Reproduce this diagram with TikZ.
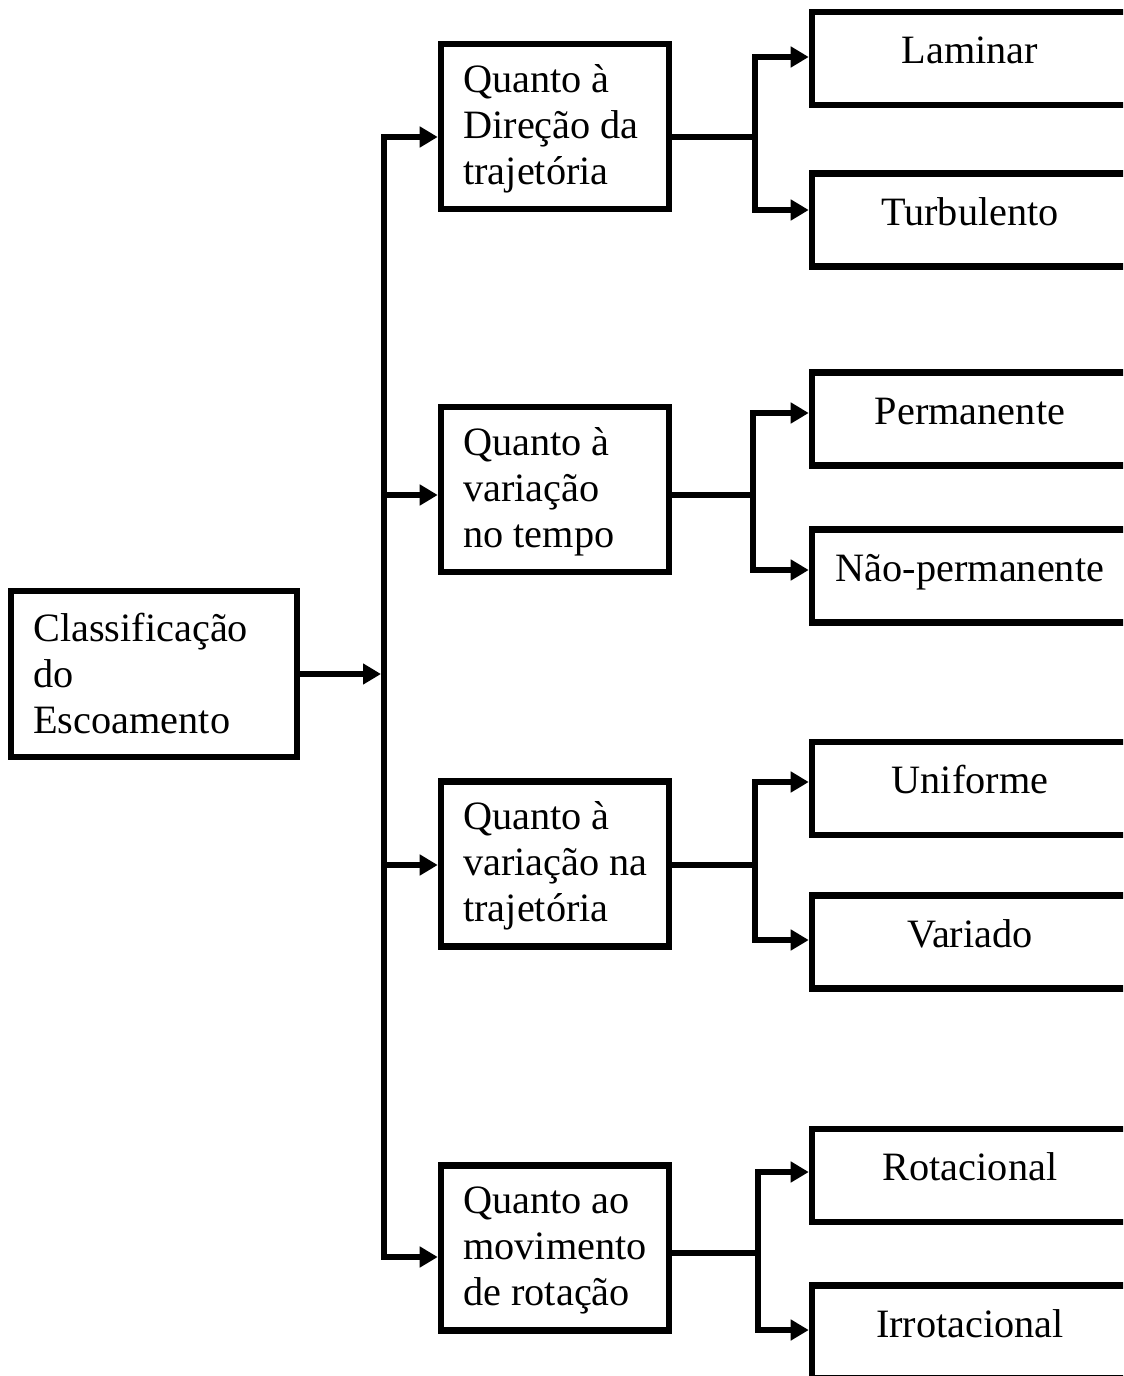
\documentclass[tikz,border=0pt]{standalone}
\usepackage{fontspec}
\setmainfont{Liberation Serif}
\usetikzlibrary{arrows.meta}
\begin{document}
\begin{tikzpicture}[x=0.75pt,y=-0.75pt,
  font=\fontsize{30.2pt}{34.5pt}\selectfont,
  lw/.style={line width=4.9pt},
  box/.style={draw, lw, rectangle, inner sep=0pt},
  leftbox/.style={box, minimum width=214.5pt, minimum height=124.5pt},
  midbox/.style={box, minimum width=171pt, minimum height=123.75pt},
  leafbox/.style={box, minimum width=237pt, minimum height=69.75pt},
  ltxt/.style={anchor=west, align=left, inner sep=0pt, xshift=19pt, yshift=-1.5pt},
  rtxt/.style={inner sep=0pt, yshift=-1.5pt, text height=0.7em, text depth=0.2em},
  arr/.style={lw, -{Triangle[length=13.5pt, width=15pt]}},
  arr2/.style={lw, {Triangle[length=13.5pt, width=15pt]}-{Triangle[length=13.5pt, width=15pt]}}
]
\useasboundingbox (0,0) rectangle (1123,1376);
\clip (0,0) rectangle (1123,1376);

% root
\node[leftbox, label={[ltxt, yshift=1.5pt]west:Classificação\\do\\Escoamento}] (L) at (154,674) {};

% middle boxes
\node[midbox, label={[ltxt]west:Quanto à\\Direção da\\trajetória}] (b1) at (555,126.5) {};
\node[midbox, label={[ltxt]west:Quanto à\\variação\\no tempo}] (b2) at (555,489.5) {};
\node[midbox, label={[ltxt]west:Quanto à\\variação na\\trajetória}] (b3) at (555,864) {};
\node[midbox, label={[ltxt]west:Quanto ao\\movimento\\de rotação}] (b4) at (555,1248) {};

% leaves
\node[leafbox, label={[rtxt]center:Laminar}] (r1) at (970,58.5) {};
\node[leafbox, label={[rtxt]center:Turbulento}] (r2) at (970,220) {};
\node[leafbox, label={[rtxt]center:Permanente}] (r3) at (970,419) {};
\node[leafbox, label={[rtxt]center:Não-permanente}] (r4) at (970,576) {};
\node[leafbox, label={[rtxt]center:Uniforme}] (r5) at (970,788.5) {};
\node[leafbox, label={[rtxt]center:Variado}] (r6) at (970,942) {};
\node[leafbox, label={[rtxt]center:Rotacional}] (r7) at (970,1175.5) {};
\node[leafbox, label={[rtxt]center:Irrotacional}] (r8) at (970,1332) {};

% bus
\coordinate (busT) at (384,137);
\coordinate (busB) at (384,1257);
\coordinate (busM) at (381,674);
\coordinate (j2) at (384,495);
\coordinate (j3) at (384,865);

\draw[arr] (L) -- (busM);
\draw[arr2] (b1.west |- busT) -- (busT) -- (busB) -- (b4.west |- busB);
\draw[arr] (j2) -- (b2.west |- j2);
\draw[arr] (j3) -- (b3.west |- j3);

% branches
\coordinate (o1) at (755,137);  \coordinate (t1) at (755,57);   \coordinate (u1) at (755,210);
\coordinate (o2) at (753,495);  \coordinate (t2) at (753,413);  \coordinate (u2) at (753,570);
\coordinate (o3) at (755,865);  \coordinate (t3) at (755,782);  \coordinate (u3) at (755,940);
\coordinate (o4) at (758,1253); \coordinate (t4) at (758,1172); \coordinate (u4) at (758,1330);

\draw[lw] (b1.east |- o1) -- (o1);
\draw[arr2] (r1.west |- t1) -- (t1) -- (u1) -- (r2.west |- u1);
\draw[lw] (b2.east |- o2) -- (o2);
\draw[arr2] (r3.west |- t2) -- (t2) -- (u2) -- (r4.west |- u2);
\draw[lw] (b3.east |- o3) -- (o3);
\draw[arr2] (r5.west |- t3) -- (t3) -- (u3) -- (r6.west |- u3);
\draw[lw] (b4.east |- o4) -- (o4);
\draw[arr2] (r7.west |- t4) -- (t4) -- (u4) -- (r8.west |- u4);
\end{tikzpicture}
\end{document}
